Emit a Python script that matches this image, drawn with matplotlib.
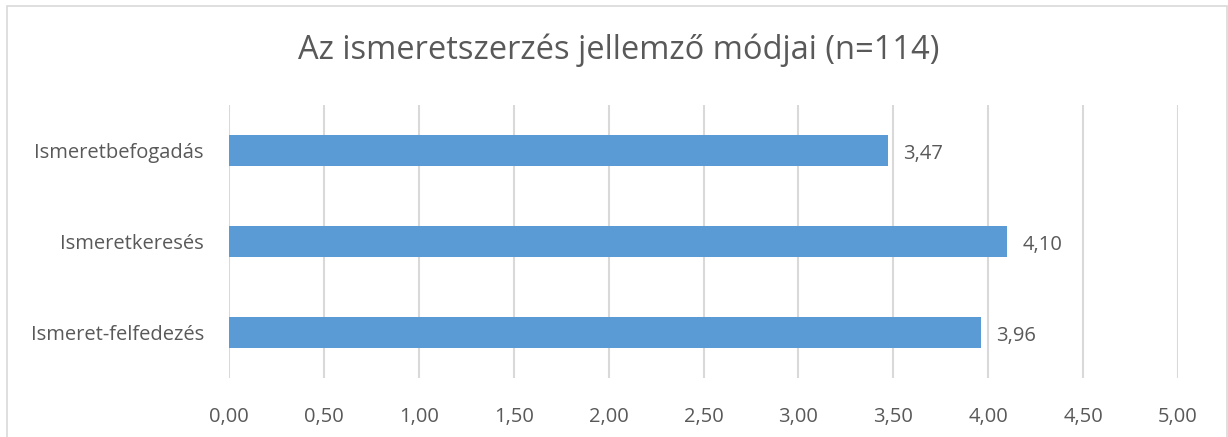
import matplotlib.pyplot as plt
from matplotlib.patches import Rectangle

# Adatok
kategoriak = ['Ismeretbefogadás', 'Ismeretkeresés', 'Ismeret-felfedezés']
ertekek = [3.47, 4.10, 3.96]
tick_ertekek = [0, 0.5, 1, 1.5, 2, 2.5, 3, 3.5, 4, 4.5, 5]

plt.rcParams['font.family'] = ['Open Sans', 'DejaVu Sans']
szurke = '#595959'

fig = plt.figure(figsize=(12.28, 4.37), dpi=100)
ax = fig.add_axes([229/1228, (437-378)/437, (1178-229)/1228, (378-105)/437])

y = list(range(len(kategoriak)))
ax.barh(y, ertekek, height=0.35, color='#5B9BD5', zorder=3)
ax.set_ylim(len(kategoriak) - 0.5, -0.5)
ax.set_xlim(0, 5)

ax.set_xticks(tick_ertekek)
ax.set_xticklabels([f'{t:.2f}'.replace('.', ',') for t in tick_ertekek])
ax.set_yticks(y)
ax.set_yticklabels(kategoriak)
ax.tick_params(axis='both', length=0, labelsize=14.5, colors=szurke)
ax.tick_params(axis='x', pad=21)
ax.tick_params(axis='y', pad=18)

ax.grid(axis='x', color='#D9D9D9', linewidth=1.5, zorder=0)
for s in ax.spines.values():
    s.set_visible(False)

for yi, v in zip(y, ertekek):
    ax.text(v + 0.08, yi + 0.04, f'{v:.2f}'.replace('.', ','), va='center', ha='left',
            fontsize=14.5, color=szurke)

fig.text(0.504, 1 - 50/437, 'Az ismeretszerzés jellemző módjai (n=114)', ha='center', va='center',
         fontsize=23.5, color=szurke)

# keret
fig.patches.append(Rectangle((7/1228, -0.01), 1220/1228, 1 - 6/437 + 0.01, transform=fig.transFigure,
                             fill=False, edgecolor='#D9D9D9', linewidth=1.2))

fig.savefig('out.png', dpi=100)
